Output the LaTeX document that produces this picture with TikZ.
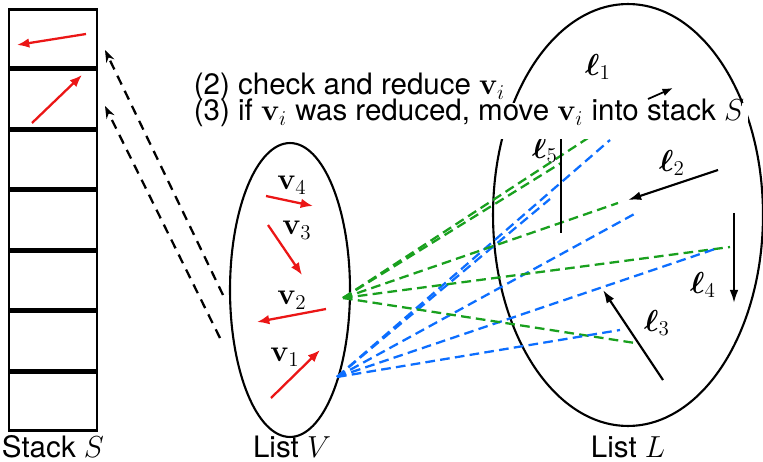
\documentclass[tikz,border=0pt]{standalone}
\usepackage{amsmath,amssymb}
\usepackage{bm}
\usepackage[no-math]{fontspec}
\setmainfont{TeX Gyre Heros}
\usetikzlibrary{arrows.meta,shapes.geometric}
\definecolor{vecRed}{RGB}{235,22,22}
\definecolor{pairGreen}{RGB}{25,160,30}
\definecolor{pairBlue}{RGB}{12,110,255}

\tikzset{
  lbl/.style={font=\fontsize{16.8}{14}\selectfont, inner sep=0pt},
  cell/.style={draw, line width=1.3pt, minimum width=1.76cm, minimum height=1.16cm, inner sep=0pt},
  listring/.style={draw, ellipse, line width=1.2pt, inner sep=0pt},
  vecarrow/.style={vecRed, line width=1.3pt, -{Latex[length=7pt,width=5.5pt]}},
  ellarrow/.style={line width=1.2pt, -{Latex[length=7.5pt,width=5pt]}},
  movearrow/.style={line width=1.3pt, dash pattern=on 5.5pt off 4pt, -{Stealth[length=7pt,width=5pt]}},
  greenpair/.style={pairGreen, line width=1.3pt, dash pattern=on 5.5pt off 3pt},
  bluepair/.style={pairBlue, line width=1.3pt, dash pattern=on 5.5pt off 3pt}
}

\begin{document}
\begin{tikzpicture}[x=0.02cm,y=-0.02cm]
\useasboundingbox (0,0) rectangle (763,462);

% stack S
\foreach \k in {0,...,6}
  \node[cell] (s\k) at (53,38.5+60.5*\k) {};
\node[lbl] (stackLbl) at (53,447) {Stack $S$};

\coordinate (a0) at (86,34);  \coordinate (b0) at (17,45);
\coordinate (a1) at (32,123); \coordinate (b1) at (82,75);
\draw[vecarrow] (a0) -- (b0);
\draw[vecarrow] (a1) -- (b1);

% lists
\node[listring, minimum width=2.4cm, minimum height=5.88cm] (listV) at (290,290) {};
\node[listring, minimum width=5.4cm, minimum height=8.44cm] (listL) at (628,215) {};
\node[lbl] (listVLbl) at (292,447) {List $V$};
\node[lbl] (listLLbl) at (628,447) {List $L$};

% pairs v2 -- L (green) and v1 -- L (blue)
\coordinate (gOrig) at (343,298);
\coordinate (bOrig) at (337,377);
\foreach \n/\p in {1/{588,138},2/{561,163},3/{618,203},4/{730,247},5/{635,343}}
  \coordinate (gEnd\n) at (\p);
\foreach \n/\p in {1/{610,140},2/{550,199},3/{638,212},4/{718,248},5/{620,330}}
  \coordinate (bEnd\n) at (\p);
\foreach \n in {1,...,5} {
  \draw[greenpair] (gOrig) -- (gEnd\n);
  \draw[bluepair] (bOrig) -- (bEnd\n);
}

% vectors in V
\coordinate (v4s) at (266,196); \coordinate (v4e) at (313,206);
\coordinate (v3s) at (268,225); \coordinate (v3e) at (302,275);
\coordinate (v2s) at (326,309); \coordinate (v2e) at (257,322);
\coordinate (v1s) at (271,398); \coordinate (v1e) at (320,350);
\draw[vecarrow] (v4s) -- (v4e);
\draw[vecarrow] (v3s) -- (v3e);
\draw[vecarrow] (v2s) -- (v2e);
\draw[vecarrow] (v1s) -- (v1e);
\node[lbl] (v4) at (292,185) {$\mathbf{v}_4$};
\node[lbl] (v3) at (297,230) {$\mathbf{v}_3$};
\node[lbl] (v2) at (292,300) {$\mathbf{v}_2$};
\node[lbl] (v1) at (285,357) {$\mathbf{v}_1$};

% vectors in L
\coordinate (l5s) at (561,138); \coordinate (l5e) at (561,233);
\coordinate (l2s) at (718,170); \coordinate (l2e) at (628,200);
\coordinate (l4s) at (734,213); \coordinate (l4e) at (734,303);
\coordinate (l3s) at (663,380); \coordinate (l3e) at (603,290);
\coordinate (l1s) at (648,99);  \coordinate (l1e) at (673,88);
\draw[line width=1.2pt] (l5s) -- (l5e);
\draw[ellarrow] (l2s) -- (l2e);
\draw[ellarrow] (l4s) -- (l4e);
\draw[ellarrow] (l3s) -- (l3e);
\node[lbl] (ell5) at (545,150) {$\bm{\ell}_5$};
\node[lbl] (ell2) at (672,163) {$\bm{\ell}_2$};
\node[lbl] (ell4) at (703,285) {$\bm{\ell}_4$};
\node[lbl] (ell3) at (657,323) {$\bm{\ell}_3$};
\node[lbl] (ell1) at (598,67) {$\bm{\ell}_1$};

% steps
\node[lbl, fill=white, anchor=base west, inner xsep=2pt, text height=10pt, text depth=10pt] (step3) at (190,121)
  {(3) if $\mathbf{v}_i$ was reduced, move $\mathbf{v}_i$ into stack $S$};
\node[lbl, anchor=base west, inner xsep=2pt] (step2) at (190,95) {(2) check and reduce $\mathbf{v}_i$};
\draw[ellarrow, line width=1pt, -{Latex[length=6pt,width=4.5pt]}] (l1s) -- (l1e);

% moves into S
\coordinate (m1s) at (223,295); \coordinate (m1e) at (105,50);
\coordinate (m2s) at (220,338); \coordinate (m2e) at (105,106);
\draw[movearrow] (m1s) -- (m1e);
\draw[movearrow] (m2s) -- (m2e);
\end{tikzpicture}
\end{document}
